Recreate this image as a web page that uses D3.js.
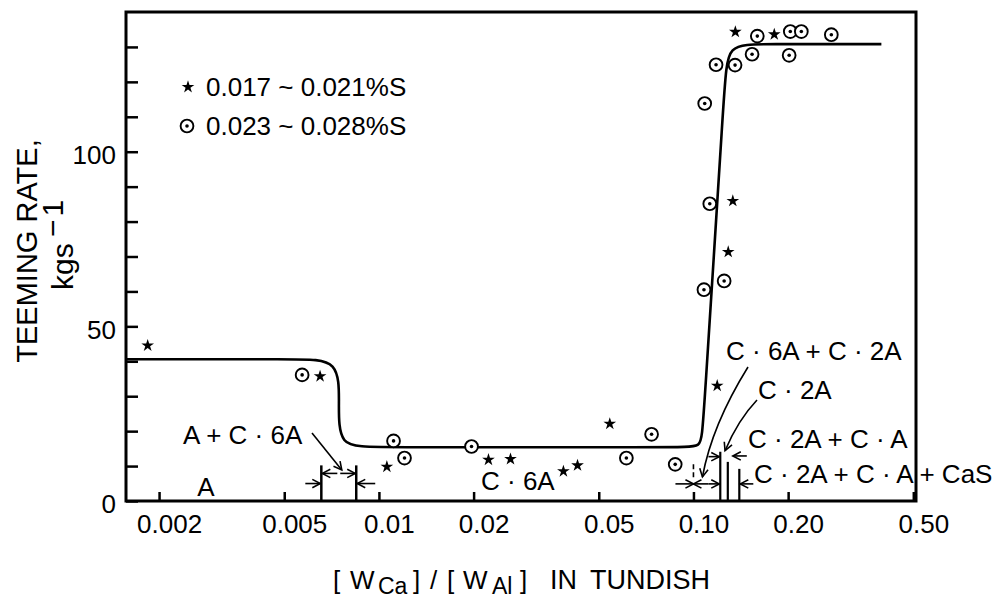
<!DOCTYPE html>
<html>
<head>
<meta charset="utf-8">
<script src="https://cdn.jsdelivr.net/npm/d3@7"></script>
<style>
  html, body { margin: 0; padding: 0; background: #fff; }
  svg { display: block; }
</style>
</head>
<body>
<svg id="chart" width="1008" height="600"></svg>
<script>
// ---- Data -------------------------------------------------------------
// [W_Ca]/[W_Al] in tundish vs. teeming rate (kg/s)
const xDomain = [0.00157, 0.51];
const yDomain = [0, 140];

const xTickValues = [0.002, 0.005, 0.01, 0.02, 0.05, 0.1, 0.2, 0.5];
const xTickLabels = ["0.002", "0.005", "0.01", "0.02", "0.05", "0.10", "0.20", "0.50"];
const yTickValues = [0, 10, 20, 30, 40, 50, 60, 70, 80, 90, 100, 110, 120, 130];
const yTickLabels = ["0", "", "", "", "", "50", "", "", "", "", "100", "", "", ""];

// 0.017 ~ 0.021 %S heats (stars)
const starX = [0.00184, 0.0065, 0.0106, 0.0223, 0.0262, 0.0386, 0.0428, 0.0542, 0.119, 0.1334, 0.129, 0.1359, 0.1807];
const starY = [44.5, 35.7, 9.8, 11.8, 12.0, 8.5, 10.2, 22.1, 33.0, 85.9, 71.3, 134.3, 133.6];

// 0.023 ~ 0.028 %S heats (dotted circles)
const circX = [0.0057, 0.01113, 0.01206, 0.0197, 0.0612, 0.0736, 0.0875, 0.1127, 0.108, 0.1252, 0.1086, 0.118, 0.1356, 0.1536, 0.1596, 0.2015, 0.2032, 0.2203, 0.2744];
const circY = [36.1, 17.2, 12.3, 15.6, 12.3, 19.1, 10.5, 85.1, 60.5, 63.0, 113.8, 124.9, 124.8, 127.9, 133.1, 127.6, 134.4, 134.4, 133.5];

// Trend curve control points (smoothed with a B-spline)
const fitX = [0.00157, 0.00558, 0.00748, 0.00746, 0.00745, 0.00954, 0.0904, 0.1060, 0.1070, 0.1259, 0.1280, 0.1656, 0.3958];
const fitY = [40.6, 40.6, 40.6, 27.9, 15.4, 15.4, 15.4, 15.4, 19.9, 120.0, 130.8, 130.8, 130.8];

// Inclusion-phase region boundaries on the x axis
const leftBounds = [0.00656, 0.00847];
const rightBounds = [0.100, 0.1217, 0.1286, 0.1399];
const phaseLabels = ["A", "A + C · 6A", "C · 6A", "C · 6A + C · 2A", "C · 2A", "C · 2A + C · A", "C · 2A + C · A + CaS"];

const legendLabels = ["0.017 ~ 0.021%S", "0.023 ~ 0.028%S"];

// ---- Layout -----------------------------------------------------------
const FONT = '"Liberation Sans", Arial, Helvetica, sans-serif';
const box = { left: 126, right: 916, top: 12, bottom: 501 };

const svg = d3.select("#chart").attr("font-family", FONT);
svg.append("rect").attr("width", 1008).attr("height", 600).attr("fill", "#fff");

const x = d3.scaleLog().domain(xDomain).range([box.left, box.right]);
const y = d3.scaleLinear().domain(yDomain).range([box.bottom, box.top]);

// arrowhead marker
const defs = svg.append("defs");
defs.append("marker")
  .attr("id", "head")
  .attr("markerUnits", "userSpaceOnUse")
  .attr("viewBox", "-9 -6 11 12")
  .attr("refX", 0).attr("refY", 0)
  .attr("markerWidth", 11).attr("markerHeight", 12)
  .attr("orient", "auto")
  .append("path")
  .attr("d", "M-8,-4.2 L0,0 L-8,4.2")
  .attr("fill", "none").attr("stroke", "#000").attr("stroke-width", 1.6);

// ---- Axes -------------------------------------------------------------
svg.append("g")
  .attr("transform", `translate(0,${box.bottom})`)
  .call(d3.axisBottom(x)
    .tickValues(xTickValues)
    .tickFormat(d => xTickLabels[xTickValues.indexOf(d)])
    .tickSize(-9).tickPadding(14))
  .call(g => g.attr("font-size", 26).attr("font-family", FONT))
  .call(g => g.select(".domain").remove())
  .call(g => g.selectAll(".tick line").attr("stroke", "#000").attr("stroke-width", 2.5))
  .call(g => g.selectAll(".tick text").attr("fill", "#000").attr("dx", 10));

svg.append("g")
  .attr("transform", `translate(${box.left},0)`)
  .call(d3.axisLeft(y)
    .tickValues(yTickValues)
    .tickFormat(d => yTickLabels[yTickValues.indexOf(d)])
    .tickSize(-12).tickPadding(10))
  .call(g => g.attr("font-size", 26).attr("font-family", FONT))
  .call(g => g.select(".domain").remove())
  .call(g => g.selectAll(".tick line").attr("stroke", "#000").attr("stroke-width", 2.5))
  .call(g => g.selectAll(".tick text").attr("fill", "#000").attr("dy", "0.45em"));

// frame
svg.append("rect")
  .attr("x", box.left).attr("y", box.top)
  .attr("width", box.right - box.left).attr("height", box.bottom - box.top)
  .attr("fill", "none").attr("stroke", "#000").attr("stroke-width", 3);

// ---- Trend curve ------------------------------------------------------
const fitData = fitX.map((v, i) => ({ x: v, y: fitY[i] }));
svg.append("path")
  .datum(fitData)
  .attr("d", d3.line().x(d => x(d.x)).y(d => y(d.y)).curve(d3.curveBasis))
  .attr("fill", "none").attr("stroke", "#000").attr("stroke-width", 2.6)
  .attr("stroke-linejoin", "round");

// ---- Points -----------------------------------------------------------
const star = d3.symbol().type(d3.symbolStar).size(50);
const starData = starX.map((v, i) => ({ x: v, y: starY[i] }));
svg.append("g").selectAll("path")
  .data(starData).join("path")
  .attr("transform", d => `translate(${x(d.x)},${y(d.y)})`)
  .attr("d", star).attr("fill", "#000");

function dotCircle(sel) {
  sel.append("circle").attr("r", 6.4).attr("fill", "#fff").attr("stroke", "#000").attr("stroke-width", 1.9);
  sel.append("circle").attr("r", 1.8).attr("fill", "#000");
}
const circData = circX.map((v, i) => ({ x: v, y: circY[i] }));
svg.append("g").selectAll("g")
  .data(circData).join("g")
  .attr("transform", d => `translate(${x(d.x)},${y(d.y)})`)
  .call(dotCircle);

// ---- Legend -----------------------------------------------------------
const legend = svg.append("g").attr("font-size", 26);
legend.append("path").attr("transform", "translate(188,87)").attr("d", star).attr("fill", "#000");
legend.append("text").attr("x", 206).attr("y", 96).text(legendLabels[0]);
legend.append("g").attr("transform", "translate(187,126)").call(dotCircle);
legend.append("text").attr("x", 206).attr("y", 135).text(legendLabels[1]);

// ---- Phase-region annotations ----------------------------------------
const ann = svg.append("g").attr("stroke", "#000").attr("fill", "none");

function arrow(x1, y1, x2, y2) {
  ann.append("line").attr("x1", x1).attr("y1", y1).attr("x2", x2).attr("y2", y2)
    .attr("stroke-width", 1.6).attr("marker-end", "url(#head)");
}

// A + C·6A window
const lb0 = x(leftBounds[0]), lb1 = x(leftBounds[1]);
leftBounds.forEach(b => {
  ann.append("line").attr("x1", x(b)).attr("x2", x(b))
    .attr("y1", y(0)).attr("y2", y(10.2)).attr("stroke-width", 2.5);
});
arrow(lb0 - 16, y(5.0), lb0 - 1, y(5.0));
arrow(lb1 + 19, y(5.0), lb1 + 1, y(5.0));
arrow(lb0 + 16, y(7.9), lb0 + 1, y(7.9));
arrow(lb1 - 16, y(7.9), lb1 - 1, y(7.9));
arrow(312, 433, (lb0 + lb1) / 2 + 3, y(8.9));

// C·6A + C·2A ... CaS windows
const rb = rightBounds.map(b => x(b));
ann.append("line").attr("x1", rb[0]).attr("x2", rb[0])
  .attr("y1", y(10.5)).attr("y2", y(6.4))
  .attr("stroke-width", 1.6).attr("stroke-dasharray", "5,3");
[[1, 14.1], [2, 11.2], [3, 9.2]].forEach(([i, top]) => {
  ann.append("line").attr("x1", rb[i]).attr("x2", rb[i])
    .attr("y1", y(0)).attr("y2", y(top)).attr("stroke-width", 2.2);
});
arrow(rb[0] - 18, y(4.9), rb[0], y(4.9));
arrow(rb[0] + 15, y(4.9), rb[0], y(4.9));
arrow(rb[0] + 15, y(4.9), rb[1] - 1, y(4.9));
arrow(rb[0] + 15, y(12.7), rb[1] - 1, y(12.7));
arrow(rb[2] + 19, y(12.9), rb[2] + 5, y(12.9));
arrow(rb[3] + 14, y(4.9), rb[3] + 1, y(4.9));

// curved leaders
ann.append("path")
  .attr("d", `M748,367 Q712,425 ${rb[0] + 9},${y(6.9)}`)
  .attr("stroke-width", 1.6).attr("marker-end", "url(#head)");
ann.append("path")
  .attr("d", `M757,400 Q738,420 ${(rb[1] + rb[2]) / 2 + 1},${y(14.4)}`)
  .attr("stroke-width", 1.6).attr("marker-end", "url(#head)");

// region labels
const lab = svg.append("g").attr("font-size", 26).attr("fill", "#000");
lab.append("text").attr("x", 206).attr("y", 496).attr("text-anchor", "middle").text(phaseLabels[0]);
lab.append("text").attr("x", 183).attr("y", 444).text(phaseLabels[1]);
lab.append("text").attr("x", 481).attr("y", 490).text(phaseLabels[2]);
lab.append("text").attr("x", 726).attr("y", 360).text(phaseLabels[3]);
lab.append("text").attr("x", 758).attr("y", 399).text(phaseLabels[4]);
lab.append("text").attr("x", 748).attr("y", 448).text(phaseLabels[5]);
lab.append("text").attr("x", 754).attr("y", 483).text(phaseLabels[6]);

// ---- Axis titles ------------------------------------------------------
svg.append("text")
  .attr("transform", "translate(37,251) rotate(-90)")
  .attr("text-anchor", "middle").attr("font-size", 29)
  .text("TEEMING RATE,");
svg.append("text")
  .attr("transform", "translate(73,290) rotate(-90)")
  .attr("font-size", 30).text("kgs");
svg.append("text")
  .attr("transform", "translate(63,237) rotate(-90)")
  .attr("font-size", 30).attr("letter-spacing", 3).text("\u22121");

const xt = svg.append("text").attr("font-size", 26);
[
  ["[", 333, 589, 26], ["W", 350, 589, 26], ["Ca", 378, 594, 23], ["]", 413, 589, 26],
  ["/", 430, 589, 26], ["[", 447, 589, 26], ["W", 463, 589, 26], ["Al", 492, 594, 23], ["]", 520, 589, 26]
].forEach(([t, px, py, fs]) => xt.append("tspan")
  .attr("x", px).attr("y", py).attr("font-size", fs).text(t));
svg.append("text").attr("font-size", 27).attr("x", 550).attr("y", 589).text("IN");
svg.append("text").attr("font-size", 27).attr("x", 590).attr("y", 589).text("TUNDISH");
</script>
</body>
</html>
